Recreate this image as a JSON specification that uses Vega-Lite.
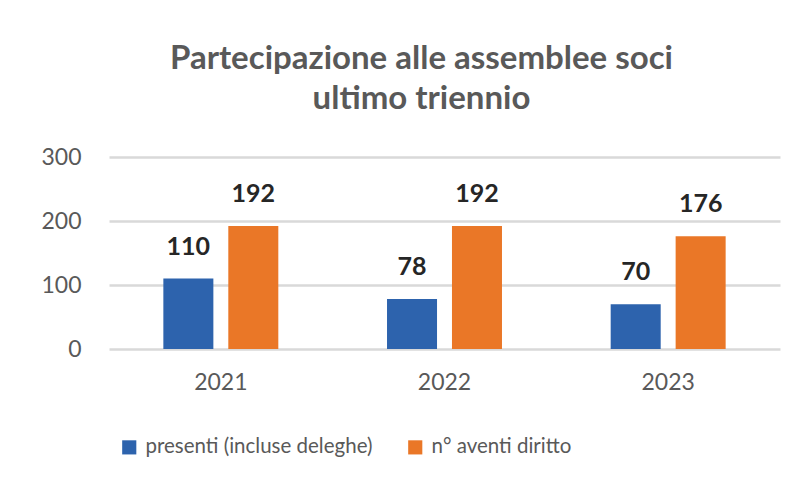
{
  "$schema": "https://vega.github.io/schema/vega-lite/v6.json",
  "autosize": {"type": "none"},
  "width": 671,
  "height": 192,
  "padding": {"left": 109, "top": 157, "right": 32, "bottom": 139},
  "background": "white",
  "title": {
    "text": ["Partecipazione alle assemblee soci", "ultimo triennio"],
    "font": "Lato",
    "fontSize": 33,
    "fontWeight": "bold",
    "color": "#595959",
    "lineHeight": 40,
    "anchor": "middle",
    "dx": -23,
    "offset": 30
  },
  "data": {
    "values": [
      {"anno": "2021", "serie": "presenti (incluse deleghe)", "valore": 110},
      {"anno": "2021", "serie": "n° aventi diritto", "valore": 192},
      {"anno": "2022", "serie": "presenti (incluse deleghe)", "valore": 78},
      {"anno": "2022", "serie": "n° aventi diritto", "valore": 192},
      {"anno": "2023", "serie": "presenti (incluse deleghe)", "valore": 70},
      {"anno": "2023", "serie": "n° aventi diritto", "valore": 176}
    ]
  },
  "encoding": {
    "x": {
      "field": "anno", "type": "nominal",
      "scale": {"paddingInner": 0.486, "paddingOuter": 0.243},
      "axis": {
        "title": null, "labelAngle": 0, "domain": false, "ticks": false,
        "labelFont": "Lato", "labelFontSize": 23, "labelColor": "#595959",
        "labelPadding": 22
      }
    },
    "xOffset": {
      "field": "serie", "type": "nominal",
      "sort": ["presenti (incluse deleghe)", "n° aventi diritto"],
      "scale": {"paddingInner": 0.23, "paddingOuter": 0}
    },
    "y": {
      "field": "valore", "type": "quantitative",
      "scale": {"domain": [0, 300]},
      "axis": {
        "title": null, "values": [0, 100, 200, 300], "domain": false, "ticks": false,
        "labelFont": "Lato", "labelFontSize": 23, "labelColor": "#595959",
        "labelPadding": 28,
        "gridColor": "#d9d9d9", "gridWidth": 2.5
      }
    }
  },
  "layer": [
    {
      "mark": {"type": "bar"},
      "encoding": {
        "color": {
          "field": "serie", "type": "nominal",
          "sort": ["presenti (incluse deleghe)", "n° aventi diritto"],
          "scale": {"domain": ["presenti (incluse deleghe)", "n° aventi diritto"], "range": ["#2D63AD", "#EA7727"]},
          "legend": {
            "title": null, "orient": "none", "direction": "horizontal",
            "legendX": 10, "legendY": 280,
            "symbolType": "square", "symbolSize": 200, "symbolStrokeWidth": 0,
            "labelFont": "Lato", "labelFontSize": 20.5, "labelColor": "#595959",
            "labelOffset": 6, "columnPadding": 32, "labelLimit": 400
          }
        }
      }
    },
    {
      "mark": {"type": "text", "baseline": "bottom", "dy": -19, "font": "Lato", "fontSize": 25, "fontWeight": "bold", "color": "#262626"},
      "encoding": {
        "text": {"field": "valore", "type": "quantitative"}
      }
    }
  ],
  "config": {"view": {"stroke": null}}
}
